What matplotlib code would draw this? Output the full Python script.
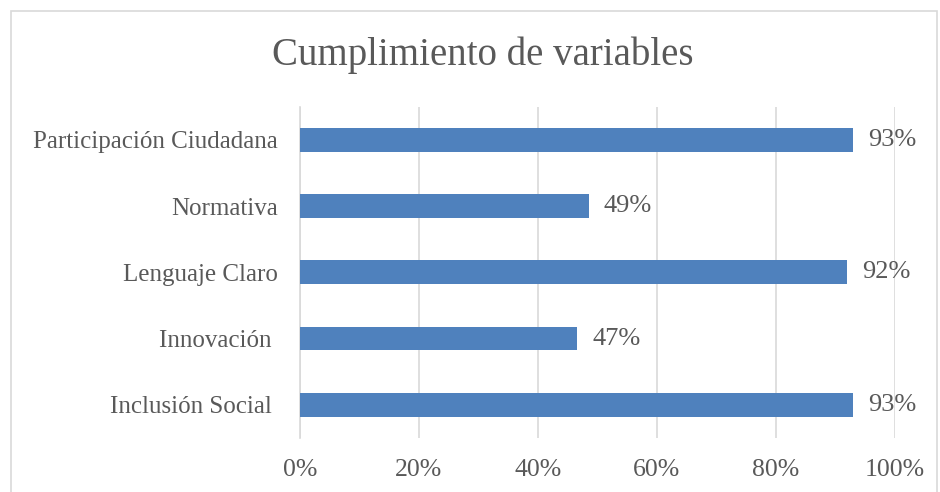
import matplotlib.pyplot as plt
from matplotlib.patches import Rectangle

# Chart data
categories = ['Inclusión Social ', 'Innovación ', 'Lenguaje Claro', 'Normativa', 'Participación Ciudadana']
values = [0.93, 0.466, 0.92, 0.486, 0.93]
labels = ['93%', '47%', '92%', '49%', '93%']
ticks = [0, 0.2, 0.4, 0.6, 0.8, 1.0]
tick_labels = ['0%', '20%', '40%', '60%', '80%', '100%']

text_color = '#595959'
bar_color = '#4f81bd'
plt.rcParams['font.family'] = ['Liberation Serif', 'DejaVu Serif']

fig = plt.figure(figsize=(9.4, 4.92), dpi=100)
ax = fig.add_axes([0.319, 0.110, 0.633, 0.673])

# Light border around the chart
fig.patches.append(Rectangle((11 / 940, -0.01), 926 / 940, 1 - 11 / 492 + 0.01,
                             transform=fig.transFigure, fill=False,
                             edgecolor='#d9d9d9', linewidth=1.2))

ax.barh(range(len(categories)), values, height=0.36, color=bar_color, zorder=3)
for i, (v, lab) in enumerate(zip(values, labels)):
    ax.text(v + 0.025, i, lab, va='center', ha='left', fontsize=19, color=text_color)

ax.set_xlim(0, 1.0)
ax.set_ylim(-0.5, len(categories) - 0.5)
ax.set_xticks(ticks)
ax.set_xticklabels(tick_labels, fontsize=18.5, color=text_color)
ax.set_yticks(range(len(categories)))
ax.set_yticklabels(categories, fontsize=18, color=text_color)
ax.tick_params(length=0, pad=16)
ax.tick_params(axis='x', pad=15)
ax.grid(axis='x', color='#d9d9d9', linewidth=1.2, zorder=0)
for s in ['top', 'right', 'bottom']:
    ax.spines[s].set_visible(False)
ax.spines['left'].set_color('#d9d9d9')
ax.spines['left'].set_linewidth(1.2)

fig.text(0.514, 0.888, 'Cumplimiento de variables', ha='center', va='center',
         fontsize=28, color=text_color)

fig.savefig('out.png', dpi=100)
